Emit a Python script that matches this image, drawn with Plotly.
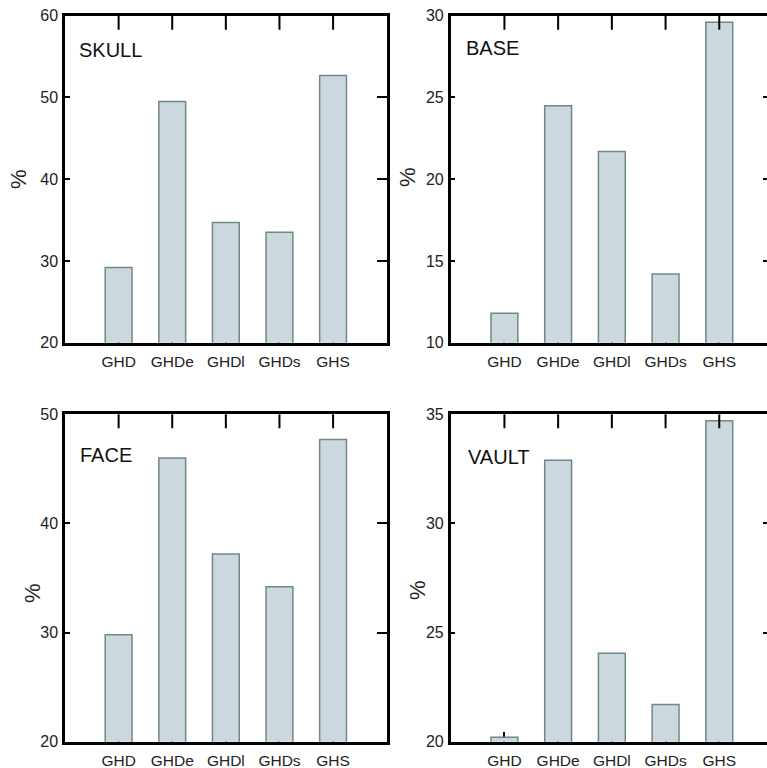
import plotly.graph_objects as go

# Groups shown on every panel
categories = ["GHD", "GHDe", "GHDl", "GHDs", "GHS"]
category_labels = ["GHD", "GHDe", "GHDl", "GHDs", "GHS"]

# Percentages per skull region
skull = [29.2, 49.5, 34.7, 33.5, 52.7]
base = [11.8, 24.5, 21.7, 14.2, 29.6]
face = [29.8, 46.0, 37.2, 34.2, 47.7]
vault = [20.2, 32.9, 24.05, 21.7, 34.7]

panel_names = ["SKULL", "BASE", "FACE", "VAULT"]
panel_values = [skull, base, face, vault]
y_ranges = [[20, 60], [10, 30], [20, 50], [20, 35]]
y_dticks = [10, 5, 10, 5]

W, H = 773, 768
FONT = "Liberation Sans, Arial, sans-serif"
BAR_FILL = "#cbd9df"
BAR_EDGE = "#6f878a"

# plot areas in pixels: (left, right, top, bottom)
boxes = [
    (65.0, 386.7, 15.7, 342.7),
    (450.7, 773.0, 15.7, 342.7),
    (65.0, 386.7, 414.3, 741.7),
    (450.7, 773.0, 414.3, 741.7),
]
title_pos = [(77, 50), (464, 48), (78, 455), (466, 457)]
pct_pos = [(19, 179), (407, 177), (32, 593), (417, 590)]

fig = go.Figure()
layout = dict(
    width=W, height=H,
    margin=dict(l=0, r=0, t=0, b=0),
    paper_bgcolor="white", plot_bgcolor="white",
    showlegend=False,
    font=dict(family=FONT, color="#222222"),
    annotations=[],
)

for i, (name, vals) in enumerate(zip(panel_names, panel_values)):
    n = i + 1
    xa = "x" if n == 1 else f"x{n}"
    ya = "y" if n == 1 else f"y{n}"
    xkey = "xaxis" if n == 1 else f"xaxis{n}"
    ykey = "yaxis" if n == 1 else f"yaxis{n}"
    # overlay axis carrying the longer ticks on the right edge
    rn = n + 4

    l, r, t, b = boxes[i]
    xdom = [l / W, min(r / W, 1.0)]
    ydom = [1 - b / H, 1 - t / H]

    # tick marks on the top edge: vertical line markers centred on the
    # frame, clipped to the plot area so only the inner half shows;
    # added before the bars so a tall bar hides its tick
    top = y_ranges[i][1]
    fig.add_trace(go.Scatter(
        x=categories, y=[top] * len(categories), xaxis=xa, yaxis=ya,
        mode="markers", cliponaxis=True, hoverinfo="skip",
        marker=dict(symbol="line-ns", size=20, color="black",
                    line=dict(color="black", width=2)),
    ))

    fig.add_trace(go.Bar(
        x=categories, y=vals, xaxis=xa, yaxis=ya,
        width=0.5,
        marker=dict(color=BAR_FILL, line=dict(color=BAR_EDGE, width=1.5)),
        hoverinfo="x+y",
    ))

    layout[xkey] = dict(
        domain=xdom, anchor=ya,
        type="category", categoryorder="array", categoryarray=categories,
        range=[-1, 5],
        tickvals=categories, ticktext=category_labels,
        ticks="inside", ticklen=10, tickwidth=2, tickcolor="black",
        showline=True, linecolor="black", linewidth=2.5, mirror=True,
        showgrid=False, zeroline=False,
        tickfont=dict(family=FONT, size=15.5, color="#222222"),
        ticklabelstandoff=3,
        layer="below traces", automargin=False,
    )
    layout[ykey] = dict(
        domain=ydom, anchor=xa,
        range=y_ranges[i], dtick=y_dticks[i], tick0=0,
        ticks="inside", ticklen=5, tickwidth=2, tickcolor="black",
        showline=True, linecolor="black", linewidth=2.5, mirror=True,
        showgrid=False, zeroline=False,
        tickfont=dict(family=FONT, size=16, color="#222222"),
        ticklabelstandoff=1,
        layer="below traces", automargin=False,
    )
    layout[f"yaxis{rn}"] = dict(
        overlaying=ya, anchor=xa, side="right",
        range=y_ranges[i], dtick=y_dticks[i], tick0=0,
        ticks="inside", ticklen=10, tickwidth=2, tickcolor="black",
        showticklabels=False, showline=False,
        showgrid=False, zeroline=False,
        layer="below traces", automargin=False,
    )
    # empty trace so the right-hand overlay axis is drawn
    fig.add_trace(go.Bar(x=[], y=[], xaxis=xa, yaxis=f"y{rn}", hoverinfo="skip"))

    tx, ty = title_pos[i]
    layout["annotations"].append(dict(
        text=name, xref="paper", yref="paper",
        x=tx / W, y=1 - ty / H, xanchor="left", yanchor="middle",
        showarrow=False, font=dict(family=FONT, size=20, color="#111111"),
    ))
    px, py = pct_pos[i]
    layout["annotations"].append(dict(
        text="%", xref="paper", yref="paper",
        x=px / W, y=1 - py / H, xanchor="center", yanchor="middle",
        textangle=-90, showarrow=False,
        font=dict(family=FONT, size=22, color="#222222"),
    ))

fig.update_layout(**layout)

fig.write_html(
    "out.html",
    post_script="document.documentElement.style.overflow='hidden';"
                "document.body.style.overflow='hidden';document.body.style.margin='0';",
)
